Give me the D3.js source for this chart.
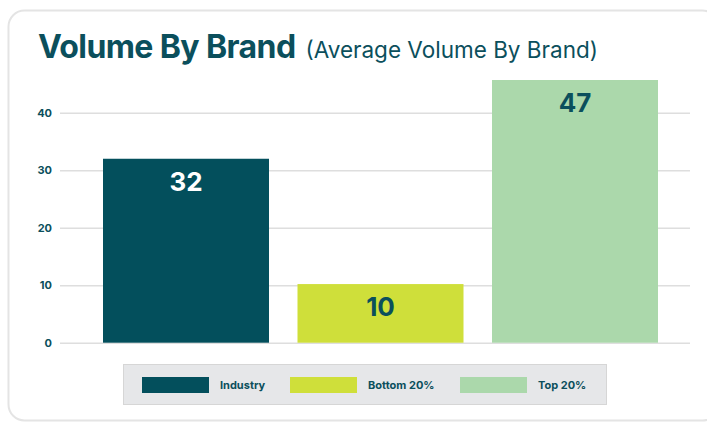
<!DOCTYPE html>
<html>
<head>
<meta charset="utf-8">
<script src="https://cdn.jsdelivr.net/npm/d3@7"></script>
<style>
  body { margin: 0; background: #fff; font-family: Inter, "Open Sans", sans-serif; }
</style>
</head>
<body>
<div id="container"></div>
<script>
/* CONSTANTS AND GLOBALS */
const width = 707;
const height = 422;
const ink = "#0b4f5c";

/* DATA */
const categories = ["Industry", "Bottom 20%", "Top 20%"];
const values = [32, 10.2, 47];
const valueLabels = ["32", "10", "47"];
const colors = ["#034f5c", "#cfdf3a", "#abd8ab"];
const yTicks = [0, 10, 20, 30, 40];

const svg = d3.select("#container")
  .append("svg")
  .attr("width", width)
  .attr("height", height);

// card
svg.append("rect")
  .attr("x", 8.5).attr("y", 10.5)
  .attr("width", 710).attr("height", 410)
  .attr("rx", 16)
  .attr("fill", "#fff")
  .attr("stroke", "#e4e4e4")
  .attr("stroke-width", 2);

// title
const title = svg.append("text")
  .attr("x", 38).attr("y", 58)
  .attr("fill", ink);
title.append("tspan")
  .attr("font-size", 32).attr("font-weight", 700)
  .attr("letter-spacing", -0.6)
  .text("Volume By Brand");
title.append("tspan")
  .attr("dx", 10)
  .attr("font-size", 22.5).attr("font-weight", 400)
  .text("(Average Volume By Brand)");

/* SCALES */
const xScale = d3.scaleBand()
  .domain(categories)
  .range([103, 658])
  .paddingInner(0.1465);

const yScale = d3.scaleLinear()
  .domain([0, 45.7])
  .range([342.7, 80])
  .clamp(true);

// grid + y axis
const yAxis = d3.axisLeft(yScale)
  .tickValues(yTicks)
  .tickSize(-630)
  .tickPadding(8);

const gy = svg.append("g")
  .attr("transform", "translate(60,0)")
  .call(yAxis);
gy.select(".domain").remove();
gy.selectAll(".tick line")
  .attr("stroke", "#dedede")
  .attr("stroke-width", 1.5);
gy.selectAll(".tick text")
  .attr("fill", ink)
  .attr("font-family", "Inter, sans-serif")
  .attr("font-size", 11)
  .attr("font-weight", 700);

/* BARS */
svg.selectAll(".bar")
  .data(values)
  .join("rect")
  .attr("class", "bar")
  .attr("x", (d, i) => xScale(categories[i]))
  .attr("y", d => yScale(d))
  .attr("width", xScale.bandwidth())
  .attr("height", d => yScale(0) - yScale(d))
  .attr("fill", (d, i) => colors[i]);

svg.selectAll(".label")
  .data(values)
  .join("text")
  .attr("class", "label")
  .attr("x", (d, i) => xScale(categories[i]) + xScale.bandwidth() / 2)
  .attr("y", d => yScale(d) + 32)
  .attr("text-anchor", "middle")
  .attr("font-size", 26)
  .attr("font-weight", 700)
  .attr("fill", (d, i) => i === 0 ? "#fff" : ink)
  .text((d, i) => valueLabels[i]);

/* LEGEND */
svg.append("rect")
  .attr("x", 123.5).attr("y", 364.5)
  .attr("width", 483).attr("height", 40)
  .attr("fill", "#e6e7e9")
  .attr("stroke", "#d6d6d6");

const legendX = [142, 290, 460];
const legend = svg.selectAll(".legend")
  .data(categories)
  .join("g")
  .attr("class", "legend")
  .attr("transform", (d, i) => `translate(${legendX[i]},377)`);

legend.append("rect")
  .attr("width", 67).attr("height", 16)
  .attr("fill", (d, i) => colors[i]);

legend.append("text")
  .attr("x", 78).attr("y", 12)
  .attr("font-size", 11)
  .attr("font-weight", 700)
  .attr("fill", ink)
  .text(d => d);
</script>
</body>
</html>
